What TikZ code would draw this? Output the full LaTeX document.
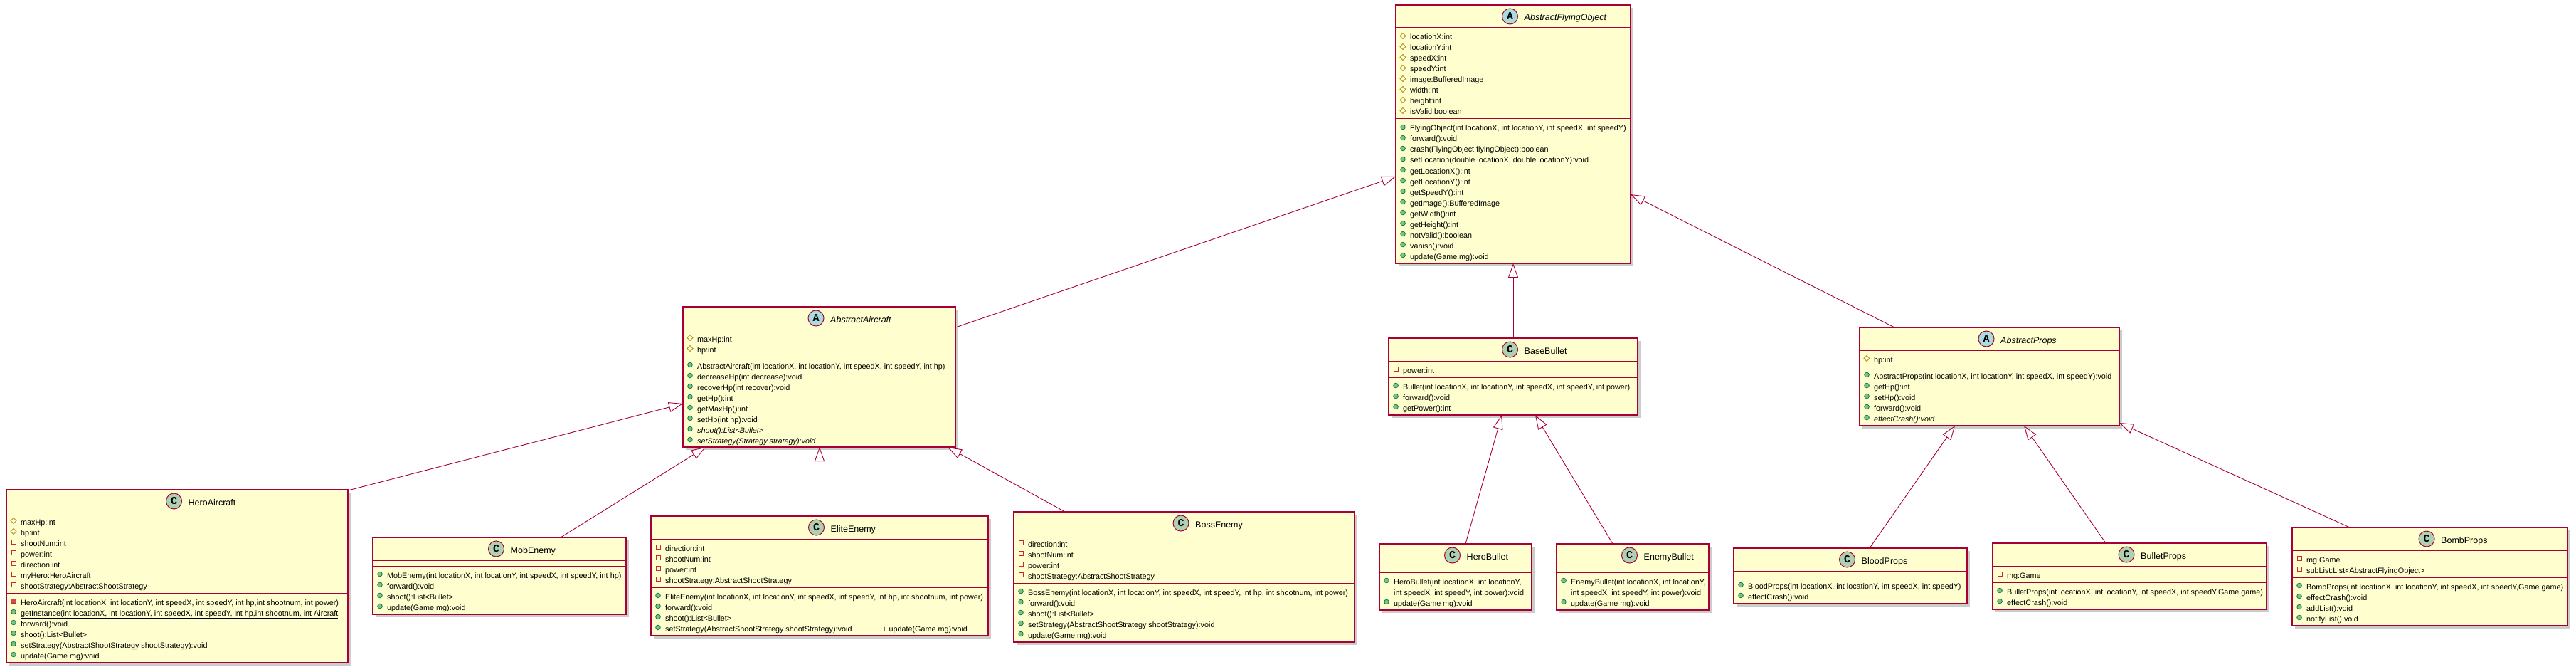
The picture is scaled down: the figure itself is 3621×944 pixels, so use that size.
\documentclass[tikz,border=0pt]{standalone}
\usepackage{fontspec}
\setmainfont{Liberation Sans}
\newfontfamily\spotfamily{Liberation Mono}
\usetikzlibrary{arrows.meta}
\definecolor{umlred}{HTML}{A80036}
\definecolor{umlbg}{HTML}{FEFECE}
\definecolor{spotA}{HTML}{A9DCDF}
\definecolor{spotC}{HTML}{ADD1B2}
\definecolor{protcol}{HTML}{B38D22}
\definecolor{privcol}{HTML}{C82930}
\definecolor{pubfill}{HTML}{84BE84}
\definecolor{pubdraw}{HTML}{038048}
\newcommand\memfont{\fontsize{10.8}{13}\selectfont}
\newcommand\ttlfont{\fontsize{12.5}{15}\selectfont}
\newlength\ttlw
\newcounter{rowc}
\tikzset{
  classbox/.style={draw=umlred, line width=1.3pt, fill=umlbg, inner sep=0pt, outer sep=0pt, anchor=north west},
  boxshadow/.style={fill=black!20},
  sepline/.style={draw=umlred, line width=1pt},
  conn/.style={draw=umlred, line width=0.9pt, -{Triangle[length=20pt,width=14pt,fill=white]}},
  mtext/.style={anchor=base west, inner sep=0pt, font=\memfont, text=black},
  ttext/.style={anchor=base west, inner sep=0pt, font=\ttlfont, text=black},
  spot/.style={circle, draw=umlred, line width=1pt, minimum size=22pt, inner sep=0pt, font=\spotfamily\bfseries\fontsize{15}{15}\selectfont},
  pubicon/.style={fill=pubfill, draw=pubdraw, line width=0.8pt},
  proticon/.style={draw=protcol, line width=0.9pt},
  privicon/.style={draw=privcol, line width=0.9pt},
  privmicon/.style={fill=privcol!85, draw=privcol, line width=0.8pt},
}
\newcommand\umlclass[8]{%
  \fill[boxshadow] (#2+4,#3+4) rectangle (#4+4,#5+4);
  \node[classbox, minimum width={(#4-#2)*1pt}, minimum height={(#5-#3)*1pt}] (#1) at (#2,#3) {};
  \xdef\bname{#1}\xdef\bx{#2}\xdef\bxr{#4}\xdef\by{#3}%
  \settowidth\ttlw{\ttlfont #8}%
  \pgfmathsetmacro\gw{31+\ttlw}%
  \pgfmathsetmacro\cxx{(#2+#4)/2-\gw/2+11}%
  \pgfmathsetmacro\txx{(#2+#4)/2-\gw/2+31}%
  \node[spot, fill=#7] (#1-spot) at (\cxx,#3+16) {#6};
  \node[ttext] (#1-title) at (\txx,#3+22) {#8};
  \draw[sepline] (#2,#3+32) -- (#4,#3+32);
  \pgfmathsetmacro\cury{#3+36}\xdef\cury{\cury}%
  \setcounter{rowc}{0}%
}
\newcommand\iconpub{\draw[pubicon] (\icx,\icy) circle[radius=3.3pt];}
\newcommand\iconprot{\draw[proticon] (\icx,\icy-4) -- (\icx+4,\icy) -- (\icx,\icy+4) -- (\icx-4,\icy) -- cycle;}
\newcommand\iconpriv{\draw[privicon] (\icx-3,\icy-3) rectangle (\icx+3,\icy+3);}
\newcommand\iconprivm{\filldraw[privmicon] (\icx-3.3,\icy-3.3) rectangle (\icx+3.3,\icy+3.3);}
\newcommand\iconnone{}
\newcommand\umlmem[2]{%
  \stepcounter{rowc}%
  \pgfmathsetmacro\icy{\cury+7.5}%
  \pgfmathsetmacro\icx{\bx+10}%
  \csname icon#1\endcsname
  \node[mtext] (\bname-m\arabic{rowc}) at (\bx+20,\cury+13) {#2};
  \pgfmathsetmacro\cury{\cury+15}\xdef\cury{\cury}%
}
\newcommand\umlsec{%
  \draw[sepline] (\bx,\cury+4) -- (\bxr,\cury+4);
  \pgfmathsetmacro\cury{\cury+8}\xdef\cury{\cury}%
}
\begin{document}
\begin{tikzpicture}[x=1pt,y=-1pt]
\fill[white] (0,0) rectangle (3621,944);
\useasboundingbox (0,0) rectangle (3621,944);

% AbstractFlyingObject
\umlclass{AFO}{1962}{7}{2292}{370}{A}{spotA}{\textit{AbstractFlyingObject}}
\umlmem{prot}{locationX:int}
\umlmem{prot}{locationY:int}
\umlmem{prot}{speedX:int}
\umlmem{prot}{speedY:int}
\umlmem{prot}{image:BufferedImage}
\umlmem{prot}{width:int}
\umlmem{prot}{height:int}
\umlmem{prot}{isValid:boolean}
\umlsec
\umlmem{pub}{FlyingObject(int locationX, int locationY, int speedX, int speedY)}
\umlmem{pub}{forward():void}
\umlmem{pub}{crash(FlyingObject flyingObject):boolean}
\umlmem{pub}{setLocation(double locationX, double locationY):void}
\umlmem{pub}{getLocationX():int}
\umlmem{pub}{getLocationY():int}
\umlmem{pub}{getSpeedY():int}
\umlmem{pub}{getImage():BufferedImage}
\umlmem{pub}{getWidth():int}
\umlmem{pub}{getHeight():int}
\umlmem{pub}{notValid():boolean}
\umlmem{pub}{vanish():void}
\umlmem{pub}{update(Game mg):void}

% AbstractAircraft
\umlclass{AA}{960}{431}{1343}{628}{A}{spotA}{\textit{AbstractAircraft}}
\umlmem{prot}{maxHp:int}
\umlmem{prot}{hp:int}
\umlsec
\umlmem{pub}{AbstractAircraft(int locationX, int locationY, int speedX, int speedY, int hp)}
\umlmem{pub}{decreaseHp(int decrease):void}
\umlmem{pub}{recoverHp(int recover):void}
\umlmem{pub}{getHp():int}
\umlmem{pub}{getMaxHp():int}
\umlmem{pub}{setHp(int hp):void}
\umlmem{pub}{\textit{shoot():List<Bullet>}}
\umlmem{pub}{\textit{setStrategy(Strategy strategy):void}}

% BaseBullet
\umlclass{BB}{1952}{475}{2302}{583}{C}{spotC}{BaseBullet}
\umlmem{priv}{power:int}
\umlsec
\umlmem{pub}{Bullet(int locationX, int locationY, int speedX, int speedY, int power)}
\umlmem{pub}{forward():void}
\umlmem{pub}{getPower():int}

% AbstractProps
\umlclass{AP}{2614}{460}{2979}{598}{A}{spotA}{\textit{AbstractProps}}
\umlmem{prot}{hp:int}
\umlsec
\umlmem{pub}{AbstractProps(int locationX, int locationY, int speedX, int speedY):void}
\umlmem{pub}{getHp():int}
\umlmem{pub}{setHp():void}
\umlmem{pub}{forward():void}
\umlmem{pub}{\textit{effectCrash():void}}

% HeroAircraft
\umlclass{HA}{9}{688}{489}{931}{C}{spotC}{HeroAircraft}
\umlmem{prot}{maxHp:int}
\umlmem{prot}{hp:int}
\umlmem{priv}{shootNum:int}
\umlmem{priv}{power:int}
\umlmem{priv}{direction:int}
\umlmem{priv}{myHero:HeroAircraft}
\umlmem{priv}{shootStrategy:AbstractShootStrategy}
\umlsec
\umlmem{privm}{HeroAircraft(int locationX, int locationY, int speedX, int speedY, int hp,int shootnum, int power)}
\umlmem{pub}{\underline{getInstance(int locationX, int locationY, int speedX, int speedY, int hp,int shootnum, int Aircraft}}
\umlmem{pub}{forward():void}
\umlmem{pub}{shoot():List<Bullet>}
\umlmem{pub}{setStrategy(AbstractShootStrategy shootStrategy):void}
\umlmem{pub}{update(Game mg):void}

% MobEnemy
\umlclass{ME}{524}{755}{880}{863}{C}{spotC}{MobEnemy}
\umlsec
\umlmem{pub}{MobEnemy(int locationX, int locationY, int speedX, int speedY, int hp)}
\umlmem{pub}{forward():void}
\umlmem{pub}{shoot():List<Bullet>}
\umlmem{pub}{update(Game mg):void}

% EliteEnemy
\umlclass{EE}{915}{725}{1389}{893}{C}{spotC}{EliteEnemy}
\umlmem{priv}{direction:int}
\umlmem{priv}{shootNum:int}
\umlmem{priv}{power:int}
\umlmem{priv}{shootStrategy:AbstractShootStrategy}
\umlsec
\umlmem{pub}{EliteEnemy(int locationX, int locationY, int speedX, int speedY, int hp, int shootnum, int power)}
\umlmem{pub}{forward():void}
\umlmem{pub}{shoot():List<Bullet>}
\umlmem{pub}{\makebox[305pt][l]{setStrategy(AbstractShootStrategy shootStrategy):void}+ update(Game mg):void}

% BossEnemy
\umlclass{BE}{1425}{719}{1904}{902}{C}{spotC}{BossEnemy}
\umlmem{priv}{direction:int}
\umlmem{priv}{shootNum:int}
\umlmem{priv}{power:int}
\umlmem{priv}{shootStrategy:AbstractShootStrategy}
\umlsec
\umlmem{pub}{BossEnemy(int locationX, int locationY, int speedX, int speedY, int hp, int shootnum, int power)}
\umlmem{pub}{forward():void}
\umlmem{pub}{shoot():List<Bullet>}
\umlmem{pub}{setStrategy(AbstractShootStrategy shootStrategy):void}
\umlmem{pub}{update(Game mg):void}

% HeroBullet
\umlclass{HB}{1939}{764}{2153}{857}{C}{spotC}{HeroBullet}
\umlsec
\umlmem{pub}{HeroBullet(int locationX, int locationY,}
\umlmem{none}{int speedX, int speedY, int power):void}
\umlmem{pub}{update(Game mg):void}

% EnemyBullet
\umlclass{EB}{2188}{764}{2402}{857}{C}{spotC}{EnemyBullet}
\umlsec
\umlmem{pub}{EnemyBullet(int locationX, int locationY,}
\umlmem{none}{int speedX, int speedY, int power):void}
\umlmem{pub}{update(Game mg):void}

% BloodProps
\umlclass{BLP}{2437}{770}{2765}{848}{C}{spotC}{BloodProps}
\umlsec
\umlmem{pub}{BloodProps(int locationX, int locationY, int speedX, int speedY)}
\umlmem{pub}{effectCrash():void}

% BulletProps
\umlclass{BUP}{2801}{763}{3186}{856}{C}{spotC}{BulletProps}
\umlmem{priv}{mg:Game}
\umlsec
\umlmem{pub}{BulletProps(int locationX, int locationY, int speedX, int speedY,Game game)}
\umlmem{pub}{effectCrash():void}

% BombProps
\umlclass{BOP}{3222}{741}{3609}{879}{C}{spotC}{BombProps}
\umlmem{priv}{mg:Game}
\umlmem{priv}{subList:List<AbstractFlyingObject>}
\umlsec
\umlmem{pub}{BombProps(int locationX, int locationY, int speedX, int speedY,Game game)}
\umlmem{pub}{effectCrash():void}
\umlmem{pub}{addList():void}
\umlmem{pub}{notifyList():void}

% connectors (generalization)
\draw[conn] ([yshift=-29pt]AA.north east) -- ([yshift=-241pt]AFO.north west);
\draw[conn] (BB.north) -- (AFO.south);
\draw[conn] ([xshift=49pt]AP.north west) -- ([yshift=-266pt]AFO.north east);
\draw[conn] ([yshift=-1pt]HA.north east) -- ([yshift=-136pt]AA.north west);
\draw[conn] ([xshift=264pt]ME.north west) -- ([xshift=32pt]AA.south west);
\draw[conn] ([xshift=237pt]EE.north west) -- ([xshift=192pt]AA.south west);
\draw[conn] ([xshift=72pt]BE.north west) -- ([xshift=372pt]AA.south west);
\draw[conn] ([xshift=121pt]HB.north west) -- ([xshift=159pt]BB.south west);
\draw[conn] ([xshift=79pt]EB.north west) -- ([xshift=206pt]BB.south west);
\draw[conn] ([xshift=191pt]BLP.north west) -- ([xshift=134pt]AP.south west);
\draw[conn] ([xshift=159pt]BUP.north west) -- ([xshift=231pt]AP.south west);
\draw[conn] ([xshift=81pt]BOP.north west) -- ([yshift=4pt]AP.south east);
\end{tikzpicture}
\end{document}
